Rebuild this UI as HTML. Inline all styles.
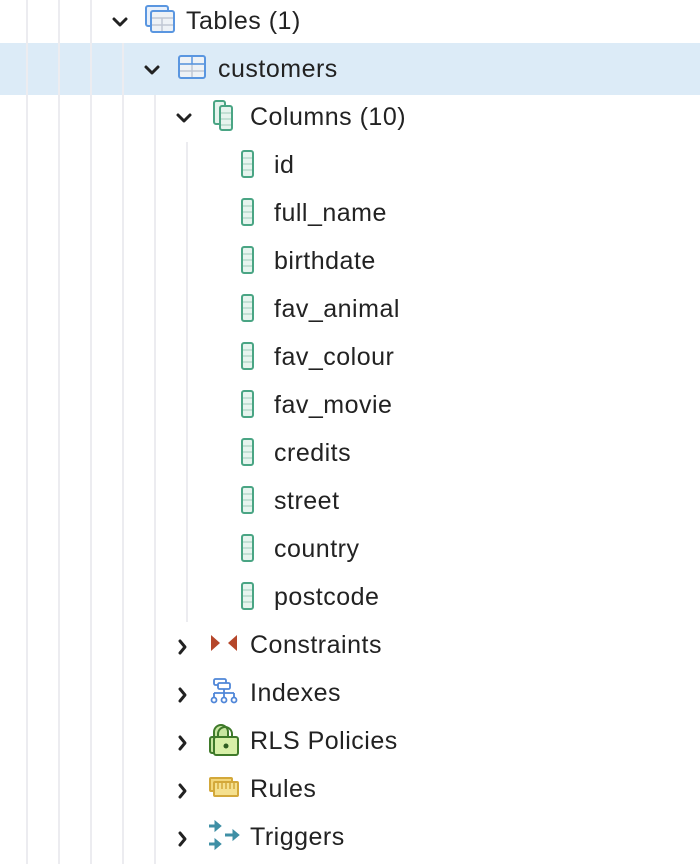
<!DOCTYPE html>
<html><head><style>
body{margin:0;width:700px;height:864px;background:#fff;overflow:hidden;position:relative;font-family:"Liberation Sans",Arial,sans-serif;}
.vl{position:absolute;width:2px;background:#ececf0;}
.t{position:absolute;top:0;line-height:42px;font-size:25px;letter-spacing:0.5px;color:#222;}
svg{position:absolute;}
</style></head><body>
<div style="position:absolute;left:0;top:43px;width:700px;height:52px;background:#dcebf7"></div>
<div class="vl" style="left:26px;top:0;height:864px"></div>
<div class="vl" style="left:58px;top:0;height:864px"></div>
<div class="vl" style="left:90px;top:0;height:864px"></div>
<div class="vl" style="left:122px;top:43px;height:821px"></div>
<div class="vl" style="left:154px;top:95px;height:769px"></div>
<div class="vl" style="left:186px;top:142px;height:480px"></div>

<svg width="700" height="864" style="left:0;top:0">
<g fill="none" stroke="#222" stroke-width="3" stroke-linecap="round" stroke-linejoin="round">
<path d="M114 19l6 6 6-6"/>
<path d="M146 67l6 6 6-6"/>
<path d="M178 115l6 6 6-6"/>
<path d="M180 641l5 6-5 6"/><path d="M180 689l5 6-5 6"/><path d="M180 737l5 6-5 6"/><path d="M180 785l5 6-5 6"/><path d="M180 833l5 6-5 6"/>
</g>
<rect x="146" y="6" width="22" height="20" rx="2" fill="#e8f0fb" stroke="#5a96e0" stroke-width="2"/>
<rect x="151" y="11" width="23" height="21" rx="2" fill="#eef2f6" stroke="#5a96e0" stroke-width="2"/>
<path d="M152 18h21M152 25h21M162 18v13" stroke="#c0c8d4" stroke-width="1.5"/>
<rect x="179" y="56" width="26" height="22" rx="2" fill="#eef2f6" stroke="#5a96e0" stroke-width="2"/>
<path d="M180 64h24M180 71h24M192 64v13" stroke="#c0c8d4" stroke-width="1.5"/>
<path d="M180 64h24M192 57v7" stroke="#5a96e0" stroke-width="1.5"/>
<rect x="214" y="101" width="11" height="23" rx="2" fill="#e6f4ee" stroke="#4aa584" stroke-width="2"/>
<rect x="220" y="106" width="12" height="24" rx="2" fill="#e6f4ee" stroke="#4aa584" stroke-width="2"/>
<path d="M221 113h10M221 119h10M221 125h10" stroke="#9dcdb9" stroke-width="1"/>
<g fill="#e6f4ee" stroke="#4aa584" stroke-width="2">
<rect x="242" y="151" width="11" height="26" rx="2"/><rect x="242" y="199" width="11" height="26" rx="2"/>
<rect x="242" y="247" width="11" height="26" rx="2"/><rect x="242" y="295" width="11" height="26" rx="2"/>
<rect x="242" y="343" width="11" height="26" rx="2"/><rect x="242" y="391" width="11" height="26" rx="2"/>
<rect x="242" y="439" width="11" height="26" rx="2"/><rect x="242" y="487" width="11" height="26" rx="2"/>
<rect x="242" y="535" width="11" height="26" rx="2"/><rect x="242" y="583" width="11" height="26" rx="2"/>
</g>
<g stroke="#9dcdb9" stroke-width="1">
<path d="M243 158h9M243 164h9M243 170h9"/><path d="M243 206h9M243 212h9M243 218h9"/>
<path d="M243 254h9M243 260h9M243 266h9"/><path d="M243 302h9M243 308h9M243 314h9"/>
<path d="M243 350h9M243 356h9M243 362h9"/><path d="M243 398h9M243 404h9M243 410h9"/>
<path d="M243 446h9M243 452h9M243 458h9"/><path d="M243 494h9M243 500h9M243 506h9"/>
<path d="M243 542h9M243 548h9M243 554h9"/><path d="M243 590h9M243 596h9M243 602h9"/>
</g>
<path d="M211 635l9 8-9 8z" fill="#b5462a"/><path d="M237 635l-9 8 9 8z" fill="#b5462a"/>
<g fill="#fff" stroke="#4f86d8" stroke-width="1.8">
<rect x="214" y="679" width="12" height="6" rx="1.5"/><rect x="218" y="683" width="12" height="6" rx="1.5"/>
<path d="M224 689v4M214 693h20M214 693v4M224 693v4M234 693v4" fill="none"/>
<circle cx="214" cy="700" r="2.5"/><circle cx="224" cy="700" r="2.5"/><circle cx="234" cy="700" r="2.5"/>
</g>
<path d="M214 738v-6a7 7 0 0 1 14 0v6" fill="#c8e6a0" stroke="#3f7a2a" stroke-width="2"/>
<path d="M218 738v-4a7 7 0 0 1 14 0v4" fill="none" stroke="#3f7a2a" stroke-width="2"/>
<rect x="210" y="737" width="14" height="16" rx="2" fill="#c8e6a0" stroke="#3f7a2a" stroke-width="2"/>
<rect x="214" y="737" width="24" height="18" rx="2" fill="#d8f0a8" stroke="#3f7a2a" stroke-width="2"/>
<circle cx="226" cy="746" r="2.5" fill="#2e5e20"/>
<rect x="210" y="778" width="22" height="13" rx="1" fill="#f3d67a" stroke="#d3a83a" stroke-width="2"/>
<rect x="214" y="782" width="24" height="14" rx="1" fill="#f5e08e" stroke="#d3a83a" stroke-width="2"/>
<path d="M218 783v6M222 783v6M226 783v6M230 783v6M234 783v6" stroke="#d3a83a" stroke-width="1.5"/>
<g fill="#3f8fa5" stroke="#3f8fa5" stroke-width="3">
<path d="M209 826h7"/><path d="M215 821l6 5-6 5z" stroke-width="1"/>
<path d="M225 835h8"/><path d="M226 830l6 5-6 5z" stroke-width="1" transform="translate(7,0)"/>
<path d="M209 844h7"/><path d="M215 839l6 5-6 5z" stroke-width="1"/>
</g>
</svg>

<div class="t" style="left:186px;top:0">Tables (1)</div>
<div class="t" style="left:218px;top:48px">customers</div>
<div class="t" style="left:250px;top:96px">Columns (10)</div>
<div class="t" style="left:274px;top:144px">id</div>
<div class="t" style="left:274px;top:192px">full_name</div>
<div class="t" style="left:274px;top:240px">birthdate</div>
<div class="t" style="left:274px;top:288px">fav_animal</div>
<div class="t" style="left:274px;top:336px">fav_colour</div>
<div class="t" style="left:274px;top:384px">fav_movie</div>
<div class="t" style="left:274px;top:432px">credits</div>
<div class="t" style="left:274px;top:480px">street</div>
<div class="t" style="left:274px;top:528px">country</div>
<div class="t" style="left:274px;top:576px">postcode</div>
<div class="t" style="left:250px;top:624px">Constraints</div>
<div class="t" style="left:250px;top:672px">Indexes</div>
<div class="t" style="left:250px;top:720px">RLS Policies</div>
<div class="t" style="left:250px;top:768px">Rules</div>
<div class="t" style="left:250px;top:816px">Triggers</div>
</body></html>
